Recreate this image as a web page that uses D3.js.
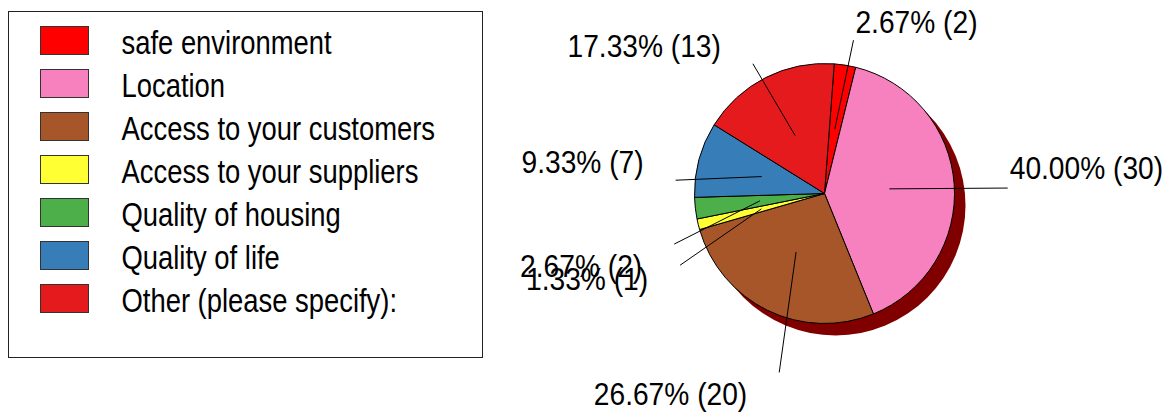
<!DOCTYPE html>
<html lang="en">
	<head>
		<meta charset="utf-8">
		<title>Reasons pie</title>
		<script src="https://d3js.org/d3.v7.min.js"></script>
	</head>
	<style type="text/css">
	body { margin: 0; background: white; }
	text { font-family: "Liberation Sans", Arial, sans-serif; fill: black; }
	</style>
	<body>
	<script>
	// data
	var categories = ["safe environment", "Location", "Access to your customers",
	                  "Access to your suppliers", "Quality of housing", "Quality of life",
	                  "Other (please specify):"];
	var counts = [2, 30, 20, 1, 2, 7, 13];
	var percentLabels = ["2.67%", "40.00%", "26.67%", "1.33%", "2.67%", "9.33%", "17.33%"];
	var colors = ["#ff0000", "#f781bf", "#a65628", "#ffff33", "#4daf4a", "#377eb8", "#e41a1c"];

	// label anchor layout: angle (deg, clockwise from top), radius factor, baseline shift
	var labelLayout = [
		{a: 10.7, k: 1.20, dy: -7},
		{a: 88.3, k: 1.41, dy: -9},
		{a: 194.2, k: 1.42, dy: 33},
		{a: 243.6, k: 1.24, dy: 25},
		{a: 251.4, k: 1.22, dy: 33},
		{a: 275.1, k: 1.15, dy: -7},
		{a: 331.1, k: 1.14, dy: -7}
	];

	const SvgWidth = 1168
	const SvgHeight = 413
	const cx = 824.5, cy = 193.5, radius = 130
	const startAngle = 4.3 * Math.PI / 180

	// the original font is a narrow one; squeeze Liberation Sans to match
	function squeeze(sel, factor){
		sel.each(function(){
			var w = this.getComputedTextLength();
			d3.select(this)
				.attr("textLength", w * factor)
				.attr("lengthAdjust", "spacingAndGlyphs");
		});
	}

	const svg = d3.select("body").append("svg")
		.attr("width", SvgWidth)
		.attr("height", SvgHeight)

	// Legend
	var legend = svg.append("g").attr("transform", "translate(8.5,11.5)")
	legend.append("rect")
		.attr("width", 474)
		.attr("height", 346)
		.attr("fill", "white")
		.attr("stroke", "#222")
		.attr("stroke-width", 1)

	var rows = legend.selectAll(".row")
		.data(categories)
		.enter().append("g")
		.attr("class", "row")
		.attr("transform", function(d, i){ return "translate(0," + (15 + i * 43) + ")"; })

	rows.append("rect")
		.attr("x", 32)
		.attr("width", 48)
		.attr("height", 28)
		.attr("fill", function(d, i){ return colors[i]; })
		.attr("stroke", "#333")
		.attr("stroke-width", 1)

	var legendText = rows.append("text")
		.attr("x", 113)
		.attr("y", 27)
		.style("font-size", "33px")
		.text(function(d){ return d; })
	squeeze(legendText, 0.83)

	// Pie
	var pie = d3.pie()
		.sort(null)
		.startAngle(startAngle)
		.endAngle(startAngle + 2 * Math.PI)
		.value(function(d){ return d; })

	var arcs = pie(counts)
	var arc = d3.arc().innerRadius(0).outerRadius(radius)

	var chart = svg.append("g").attr("transform", "translate(" + cx + "," + cy + ")")

	// shadow
	chart.append("circle")
		.attr("cx", 11)
		.attr("cy", 12)
		.attr("r", radius)
		.attr("fill", "#800000")

	chart.selectAll(".slice")
		.data(arcs)
		.enter().append("path")
		.attr("class", "slice")
		.attr("d", arc)
		.attr("fill", function(d, i){ return colors[i]; })
		.attr("stroke", "black")
		.attr("stroke-width", 1)
		.attr("stroke-linejoin", "round")

	function polar(angle, r){
		return [Math.sin(angle) * r, -Math.cos(angle) * r];
	}

	var labels = chart.selectAll(".lbl")
		.data(arcs)
		.enter().append("g")
		.attr("class", "lbl")

	labels.append("line")
		.attr("x1", function(d){ return polar((d.startAngle + d.endAngle) / 2, radius * 0.5)[0]; })
		.attr("y1", function(d){ return polar((d.startAngle + d.endAngle) / 2, radius * 0.5)[1]; })
		.attr("x2", function(d, i){ return polar(labelLayout[i].a * Math.PI / 180, radius * labelLayout[i].k)[0]; })
		.attr("y2", function(d, i){ return polar(labelLayout[i].a * Math.PI / 180, radius * labelLayout[i].k)[1]; })
		.attr("stroke", "black")
		.attr("stroke-width", 1)

	var pctText = labels.append("text")
		.attr("x", function(d, i){
			var p = polar(labelLayout[i].a * Math.PI / 180, radius * labelLayout[i].k);
			return labelLayout[i].a < 180 ? p[0] + 2 : p[0] - 32;
		})
		.attr("y", function(d, i){
			var p = polar(labelLayout[i].a * Math.PI / 180, radius * labelLayout[i].k);
			return p[1] + labelLayout[i].dy;
		})
		.attr("text-anchor", function(d, i){ return labelLayout[i].a < 180 ? "start" : "end"; })
		.style("font-size", "32px")
		.text(function(d, i){ return percentLabels[i] + " (" + counts[i] + ")"; })
	squeeze(pctText, 0.88)

	</script>
	</body>
</html>
